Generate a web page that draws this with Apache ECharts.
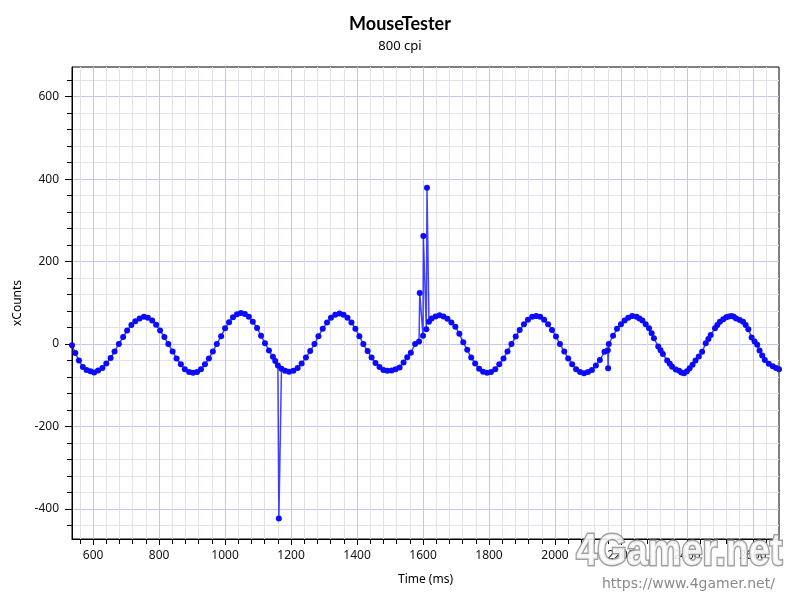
<!DOCTYPE html>
<html>
<head>
<meta charset="utf-8">
<script src="https://cdn.jsdelivr.net/npm/echarts@6/dist/echarts.min.js"></script>
<style>
html,body{margin:0;padding:0;background:#fff;}
#chart{width:800px;height:600px;}
</style>
</head>
<body>
<div id="chart"></div>
<script>
// ---- data ----
const timeMs = [
  536,546,557,569,580,592,603,
  615,628,640,653,665,678,691,703,716,728,741,754,
  766,779,791,803,816,828,841,853,866,878,891,903,
  915,927,939,951,963,975,988,1000,1012,1024,1036,1048,
  1060,1072,1084,1097,1109,1121,1133,1145,1152,1160,1163,1171,1182,1194,
  1207,1220,1232,1245,1258,1271,1283,1296,1309,1321,1334,1347,
  1359,1371,1383,1395,1407,1419,1432,1444,1456,1468,1480,1492,
  1505,1517,1529,1541,1552,1563,1576,1588,1590,1600,1601,1610,1612,1618,1626,1638,1650,
  1662,1674,1686,1698,1710,1722,1734,1746,1758,1770,1782,1794,
  1806,1819,1831,1844,1856,1868,1881,1893,1906,1918,1931,1943,
  1955,1967,1979,1991,2003,2015,2028,2040,2052,2064,2076,2088,
  2100,2112,2124,2136,2150,2160,2161,2163,2176,2188,2200,2211,2222,2234,
  2247,2256,2265,2275,2285,2293,2300,2313,2320,2327,2340,2348,2355,2366,2376,2383,2391,
  2400,2408,2417,2426,2436,2446,2457,2465,2472,2485,2492,2500,2510,2519,2527,2535,2542,2549,2560,2570,2578,2586,2596,2605,2613,2620,2628,2636,2648,2660,2670,2679
];
const xCounts = [
  -3,-22,-40,-56,-63,-66,-69,
  -64,-58,-47,-34,-18,0,17,33,46,55,62,66,
  64,57,47,33,17,0,-18,-35,-49,-61,-68,-70,
  -68,-61,-49,-35,-18,0,19,38,53,65,72,75,
  73,66,54,39,20,2,-16,-31,-41,-52,-423,-60,-65,-67,
  -65,-58,-47,-33,-17,0,19,37,52,64,71,74,
  71,64,52,37,19,0,-17,-33,-46,-56,-63,-65,
  -64,-61,-57,-45,-32,-21,0,6,124,20,262,36,379,54,62,67,70,
  67,61,52,42,25,4,-14,-33,-47,-60,-67,-70,
  -68,-61,-49,-35,-18,0,18,34,48,59,66,68,
  66,59,48,34,18,0,-18,-35,-49,-61,-68,-71,
  -68,-63,-52,-39,-19,-15,-59,0,20,37,48,57,64,68,
  66,62,57,48,38,26,14,-6,-15,-24,-40,-48,-55,-62,-65,-69,-71,
  -66,-59,-50,-40,-30,-19,2,12,22,38,46,54,60,65,67,68,66,62,58,54,46,36,16,6,-2,-16,-28,-39,-48,-54,-58,-61
];
const xTickLabels = [600,800,1000,1200,1400,1600,1800,2000,2200,2400,2600];
const yTickLabels = [-400,-200,0,200,400,600];
const xRange = [536, 2679];
const yRange = [-473, 672];

// minor tick positions (every 40, skipping majors)
function minorTicks(range, step, majorStep){
  const out = [];
  for (let v = Math.ceil(range[0]/step)*step; v < range[1]; v += step){
    if (v % majorStep !== 0) out.push(v);
  }
  return out;
}
const xMinor = minorTicks(xRange, 40, 200);
const yMinor = minorTicks(yRange, 40, 200);

const FONT = '"Noto Sans", "Open Sans", sans-serif';
const majorGrid = '#c4c4ee';
const minorGrid = '#e2e2ee';
const plain = v => String(v);

const chart = echarts.init(document.getElementById('chart'), null, {renderer:'canvas'});
const option = {
  animation: false,
  backgroundColor: '#fff',
  title: {
    text: 'MouseTester',
    subtext: '800 cpi',
    left: 'center',
    top: 10,
    itemGap: 7,
    textStyle: {fontFamily: 'Lato, "Noto Sans", sans-serif', fontSize: 18, fontWeight: 'bold', color: '#000'},
    subtextStyle: {fontFamily: FONT, fontSize: 13, color: '#000'}
  },
  grid: {
    left: 72, right: 21, top: 67, bottom: 61,
    show: true, borderColor: '#000', borderWidth: 1, backgroundColor: 'transparent'
  },
  xAxis: [{
    type: 'value', min: xRange[0], max: xRange[1],
    name: 'Time (ms)', nameLocation: 'middle', nameGap: 35,
    nameTextStyle: {fontFamily: FONT, fontSize: 12, color: '#000'},
    axisLine: {show: true, onZero: false, lineStyle: {color: '#000', width: 1}},
    axisTick: {show: true, length: 6, customValues: xTickLabels, lineStyle: {color: '#000'}},
    axisLabel: {customValues: xTickLabels, formatter: plain, fontFamily: FONT, fontSize: 12, color: '#111', margin: 11},
    splitLine: {show: true, lineStyle: {color: majorGrid, width: 1}}
  },{
    type: 'value', min: xRange[0], max: xRange[1], position: 'bottom',
    axisLine: {show: false, onZero: false},
    axisTick: {show: true, length: 5, customValues: xMinor, lineStyle: {color: '#000'}},
    axisLabel: {show: false},
    splitLine: {show: true, lineStyle: {color: minorGrid, width: 1}}
  }],
  yAxis: [{
    type: 'value', min: yRange[0], max: yRange[1],
    name: 'xCounts', nameLocation: 'middle', nameGap: 39,
    nameTextStyle: {fontFamily: FONT, fontSize: 12, color: '#000'},
    axisLine: {show: true, onZero: false, lineStyle: {color: '#000', width: 1}},
    axisTick: {show: true, length: 7, customValues: yTickLabels, lineStyle: {color: '#000'}},
    axisLabel: {customValues: yTickLabels, formatter: plain, fontFamily: FONT, fontSize: 12, color: '#111', margin: 13},
    splitLine: {show: true, lineStyle: {color: majorGrid, width: 1}}
  },{
    type: 'value', min: yRange[0], max: yRange[1], position: 'left',
    axisLine: {show: false, onZero: false},
    axisTick: {show: true, length: 5, customValues: yMinor, lineStyle: {color: '#000'}},
    axisLabel: {show: false},
    splitLine: {show: true, lineStyle: {color: minorGrid, width: 1}}
  }],
  series: [{
    type: 'line',
    xAxisIndex: 0, yAxisIndex: 0,
    data: timeMs.map((t, i) => [t, xCounts[i]]),
    symbol: 'circle', symbolSize: 6,
    showAllSymbol: true,
    lineStyle: {color: 'rgba(20,20,255,0.8)', width: 1.5},
    itemStyle: {color: '#0a0aff'},
    clip: false,
    z: 3
  }],
  graphic: [{
    type: 'text', left: 575, top: 529, z: 100, scaleX: 0.86,
    style: {
      text: '4Gamer.net',
      font: 'bold 44px "Liberation Sans", Arial, sans-serif',
      fill: 'rgba(255,255,255,0.85)', stroke: 'rgba(150,150,150,0.9)', lineWidth: 3
    }
  },{
    type: 'text', left: 602, top: 577, z: 100,
    style: {
      text: 'https://www.4gamer.net/',
      font: '14px "DejaVu Sans", sans-serif',
      fill: '#8a8a8a'
    }
  }]
};
chart.setOption(option);
</script>
</body>
</html>
